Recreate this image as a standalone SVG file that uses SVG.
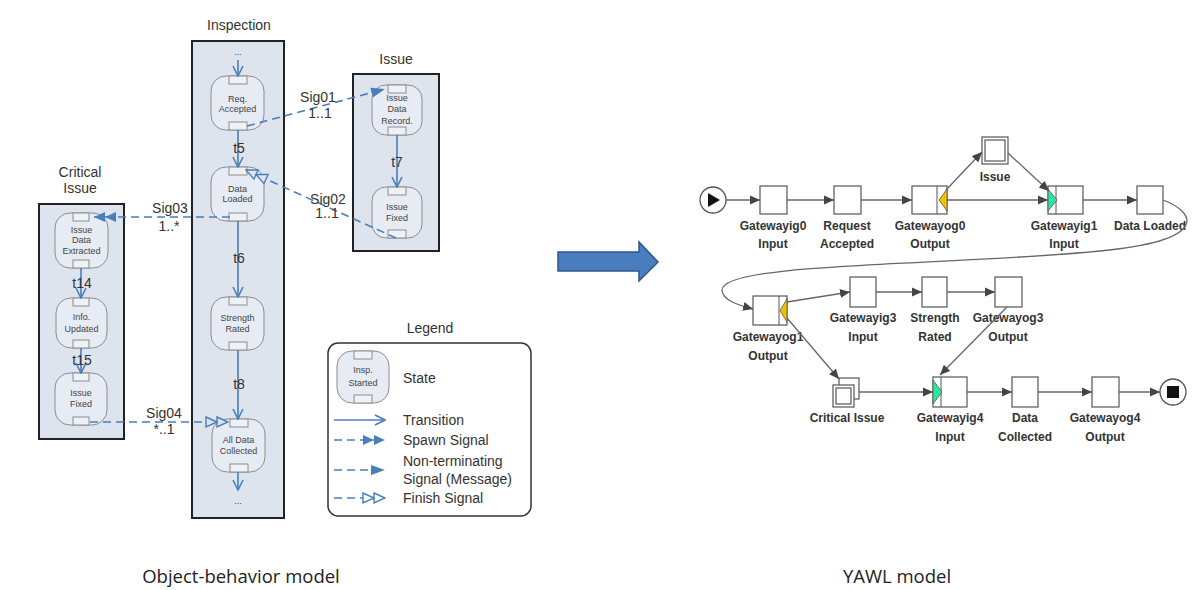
<svg xmlns="http://www.w3.org/2000/svg" width="1197" height="590" viewBox="0 0 1197 590">
<style>
.cont{fill:#dde4ee;stroke:#222;stroke-width:2}
.st{fill:#e7ecf4;stroke:#8c8c8c;stroke-width:1}
.port{fill:#eef1f6;stroke:#8c8c8c;stroke-width:1}
.tr{stroke:#4a7ebb;stroke-width:1.6;fill:none}
.sig{stroke:#4a7ebb;stroke-width:1.6;fill:none;stroke-dasharray:8,5}
.ttl{font-family:"Liberation Sans",Arial,sans-serif;font-size:14px;fill:#333;text-anchor:middle}
.lbl{font-family:"Liberation Sans",Arial,sans-serif;font-size:14px;fill:#333;text-anchor:middle}
.sn{font-family:"Liberation Sans",Arial,sans-serif;font-size:9px;fill:#444;text-anchor:middle}
.lg{font-family:"Liberation Sans",Arial,sans-serif;font-size:14px;fill:#333}
.task{fill:#fff;stroke:#555;stroke-width:1.2}
.ye{fill:#f2c200;stroke:#555;stroke-width:0.8}
.gr{fill:#2fe3a0;stroke:#555;stroke-width:0.8}
.ed{stroke:#666;stroke-width:1.3;fill:none}
.yl{font-family:"Liberation Sans",Arial,sans-serif;font-size:12px;font-weight:bold;fill:#333;text-anchor:middle}
.cap{font-family:"Open Sans","Liberation Sans",sans-serif;font-size:18.5px;fill:#222;text-anchor:middle}
</style>
<defs>
<marker id="vh" markerUnits="userSpaceOnUse" viewBox="0 0 12 12" refX="11" refY="6" markerWidth="12" markerHeight="12" orient="auto">
<path d="M1,1 L11,6 L1,11" fill="none" stroke="#4a7ebb" stroke-width="1.6"/>
</marker>
<marker id="msg" markerUnits="userSpaceOnUse" viewBox="0 0 14 12" refX="14" refY="6" markerWidth="14" markerHeight="12" orient="auto">
<path d="M0,1 L14,6 L0,11 z" fill="#4a7ebb"/>
</marker>
<marker id="spawn" markerUnits="userSpaceOnUse" viewBox="0 0 22 12" refX="22" refY="6" markerWidth="22" markerHeight="12" orient="auto">
<path d="M0,1 L11,6 L0,11 z M11,1 L22,6 L11,11 z" fill="#4a7ebb"/>
</marker>
<marker id="fin" markerUnits="userSpaceOnUse" viewBox="0 0 24 14" refX="23" refY="7" markerWidth="24" markerHeight="14" orient="auto">
<path d="M1,2 L12,7 L1,12 z M12,2 L23,7 L12,12 z" fill="#dde4ee" stroke="#4a7ebb" stroke-width="1.4"/>
</marker>
<marker id="finw" markerUnits="userSpaceOnUse" viewBox="0 0 24 14" refX="23" refY="7" markerWidth="24" markerHeight="14" orient="auto">
<path d="M1,2 L12,7 L1,12 z M12,2 L23,7 L12,12 z" fill="#fff" stroke="#4a7ebb" stroke-width="1.4"/>
</marker>
<marker id="ya" markerUnits="userSpaceOnUse" viewBox="0 0 10 10" refX="10" refY="5" markerWidth="10" markerHeight="10" orient="auto">
<path d="M0,0.5 L10,5 L0,9.5 z" fill="#444"/>
</marker>
</defs>
<rect width="1197" height="590" fill="#fff"/>

<!-- Object-behavior model -->
<g id="inspection">
<text class="ttl" x="239" y="30">Inspection</text>
<rect class="cont" x="192" y="41" width="92" height="477"/>
<text class="sn" x="238" y="55">...</text>
<text class="sn" x="238" y="504">...</text>
</g>
<g id="issue">
<text class="ttl" x="396" y="64">Issue</text>
<rect class="cont" x="353" y="74" width="86" height="177"/>
</g>
<g id="critical-issue">
<text class="ttl" x="80" y="177">Critical</text>
<text class="ttl" x="80" y="193">Issue</text>
<rect class="cont" x="39" y="204" width="85" height="235"/>
</g>

<g id="req-accepted">
<rect class="st" x="211" y="76" width="53" height="54" rx="15"/>
<rect class="port" x="229" y="76" width="18" height="8"/><rect class="port" x="229" y="122" width="18" height="8"/>
<text class="sn" x="237.5" y="102">Req.</text><text class="sn" x="237.5" y="112">Accepted</text>
</g>
<g id="data-loaded">
<rect class="st" x="211" y="167" width="53" height="54" rx="15"/>
<rect class="port" x="229" y="167" width="18" height="8"/><rect class="port" x="229" y="213" width="18" height="8"/>
<text class="sn" x="237.5" y="192">Data</text><text class="sn" x="237.5" y="202">Loaded</text>
</g>
<g id="strength-rated">
<rect class="st" x="211" y="297" width="53" height="53" rx="15"/>
<rect class="port" x="229" y="297" width="18" height="8"/><rect class="port" x="229" y="342" width="18" height="8"/>
<text class="sn" x="237.5" y="321">Strength</text><text class="sn" x="237.5" y="332">Rated</text>
</g>
<g id="all-data-collected">
<rect class="st" x="212" y="419" width="53" height="53" rx="15"/>
<rect class="port" x="230" y="419" width="18" height="8"/><rect class="port" x="230" y="464" width="18" height="8"/>
<text class="sn" x="238.5" y="443">All Data</text><text class="sn" x="238.5" y="454">Collected</text>
</g>
<g id="issue-data-record">
<rect class="st" x="372" y="85" width="50" height="50" rx="14"/>
<rect class="port" x="388" y="85" width="18" height="8"/><rect class="port" x="388" y="127" width="18" height="8"/>
<text class="sn" x="397" y="101">Issue</text><text class="sn" x="397" y="112">Data</text><text class="sn" x="397" y="124">Record.</text>
</g>
<g id="issue-fixed-i">
<rect class="st" x="372" y="187" width="50" height="51" rx="14"/>
<rect class="port" x="388" y="187" width="18" height="8"/><rect class="port" x="388" y="230" width="18" height="8"/>
<text class="sn" x="397" y="210">Issue</text><text class="sn" x="397" y="221">Fixed</text>
</g>
<g id="issue-data-extracted">
<rect class="st" x="55" y="213" width="53" height="55" rx="15"/>
<rect class="port" x="73" y="213" width="16" height="8"/><rect class="port" x="73" y="260" width="16" height="8"/>
<text class="sn" x="81.5" y="233">Issue</text><text class="sn" x="81.5" y="243">Data</text><text class="sn" x="81.5" y="254">Extracted</text>
</g>
<g id="info-updated">
<rect class="st" x="56" y="298" width="51" height="50" rx="15"/>
<rect class="port" x="73" y="298" width="16" height="8"/><rect class="port" x="73" y="340" width="16" height="8"/>
<text class="sn" x="81.5" y="320">Info.</text><text class="sn" x="81.5" y="332">Updated</text>
</g>
<g id="issue-fixed-c">
<rect class="st" x="55" y="373" width="52" height="52" rx="15"/>
<rect class="port" x="73" y="373" width="16" height="8"/><rect class="port" x="73" y="417" width="16" height="8"/>
<text class="sn" x="81" y="396">Issue</text><text class="sn" x="81" y="407">Fixed</text>
</g>

<g id="ob-connectors">
<line class="tr" x1="238" y1="60" x2="238" y2="76" marker-end="url(#vh)"/>
<line class="tr" x1="238" y1="130" x2="238" y2="167" marker-end="url(#vh)"/>
<line class="tr" x1="238" y1="221" x2="238" y2="297" marker-end="url(#vh)"/>
<line class="tr" x1="238" y1="350" x2="238" y2="419" marker-end="url(#vh)"/>
<line class="tr" x1="238" y1="472" x2="238" y2="490" marker-end="url(#vh)"/>
<line class="tr" x1="397" y1="135" x2="397" y2="187" marker-end="url(#vh)"/>
<line class="tr" x1="81" y1="268" x2="81" y2="298" marker-end="url(#vh)"/>
<line class="tr" x1="81" y1="348" x2="81" y2="373" marker-end="url(#vh)"/>
<text class="lbl" x="239" y="153">t5</text>
<text class="lbl" x="239" y="263">t6</text>
<text class="lbl" x="239" y="389">t8</text>
<text class="lbl" x="397" y="167">t7</text>
<text class="lbl" x="82" y="288">t14</text>
<text class="lbl" x="82" y="365">t15</text>
<path class="sig" d="M247,126 L385,89" marker-end="url(#msg)"/>
<path class="sig" d="M396,238 L246,170" marker-end="url(#fin)"/>
<path class="sig" d="M230,217 L94,217" marker-end="url(#spawn)"/>
<path class="sig" d="M90,422 L228,422" marker-end="url(#fin)"/>
<text class="lbl" x="318" y="102">Sig01</text><text class="lbl" x="320" y="118">1..1</text>
<text class="lbl" x="328" y="204">Sig02</text><text class="lbl" x="327" y="218">1..1</text>
<text class="lbl" x="170" y="213">Sig03</text><text class="lbl" x="169" y="231">1..*</text>
<text class="lbl" x="164" y="418">Sig04</text><text class="lbl" x="164" y="434">*..1</text>
</g>

<g id="legend">
<text class="ttl" x="430" y="333">Legend</text>
<rect x="328" y="343" width="203" height="173" rx="10" fill="#fff" stroke="#333" stroke-width="1.5"/>
<rect class="st" x="337" y="351" width="52" height="52" rx="15"/>
<rect class="port" x="354" y="351" width="18" height="8"/><rect class="port" x="354" y="395" width="18" height="8"/>
<text class="sn" x="363" y="373">Insp.</text><text class="sn" x="363" y="386">Started</text>
<text class="lg" x="403" y="383">State</text>
<line class="tr" x1="334" y1="420" x2="385" y2="420" marker-end="url(#vh)"/>
<text class="lg" x="403" y="425">Transition</text>
<line class="sig" x1="334" y1="440" x2="385" y2="440" marker-end="url(#spawn)"/>
<text class="lg" x="403" y="445">Spawn Signal</text>
<line class="sig" x1="334" y1="470" x2="385" y2="470" marker-end="url(#msg)"/>
<text class="lg" x="403" y="466">Non-terminating</text>
<text class="lg" x="403" y="484">Signal (Message)</text>
<line class="sig" x1="334" y1="498" x2="385" y2="498" marker-end="url(#finw)"/>
<text class="lg" x="403" y="503">Finish Signal</text>
</g>

<g id="big-arrow">
<path d="M558,252 L639,252 L639,242 L658,262 L639,281 L639,271 L558,271 z" fill="#4a7cc0" stroke="#2f5690" stroke-width="1.5"/>
</g>

<!-- YAWL model -->
<g id="start"><circle cx="713" cy="200" r="13" fill="#fff" stroke="#555" stroke-width="1.3"/><path d="M708,193 L720,200 L708,207 z" fill="#111"/></g>
<g id="gw-ig0"><rect class="task" x="760" y="186" width="27" height="28"/><text class="yl" x="773" y="230">Gatewayig0</text><text class="yl" x="773" y="248">Input</text></g>
<g id="req-acc"><rect class="task" x="834" y="186" width="27" height="28"/><text class="yl" x="847" y="230">Request</text><text class="yl" x="847" y="248">Accepted</text></g>
<g id="gw-og0"><rect class="task" x="912" y="186" width="35" height="28"/><line x1="937" y1="186" x2="937" y2="214" stroke="#555"/><path class="ye" d="M947,189 L947,211 L939,200 z"/><text class="yl" x="930" y="230">Gatewayog0</text><text class="yl" x="930" y="248">Output</text></g>
<g id="issue-t"><rect class="task" x="982" y="137" width="26" height="27"/><rect class="task" x="985" y="140" width="20" height="21"/><text class="yl" x="995" y="181">Issue</text></g>
<g id="gw-ig1"><rect class="task" x="1048" y="186" width="35" height="28"/><line x1="1056" y1="186" x2="1056" y2="214" stroke="#555"/><path class="gr" d="M1048,189 L1048,211 L1057,200 z"/><text class="yl" x="1064" y="230">Gatewayig1</text><text class="yl" x="1064" y="248">Input</text></g>
<g id="data-loaded-t"><rect class="task" x="1137" y="186" width="26" height="28"/><text class="yl" x="1150" y="230">Data Loaded</text></g>
<g id="gw-og1"><rect class="task" x="753" y="296" width="34" height="29"/><line x1="779" y1="296" x2="779" y2="325" stroke="#555"/><path class="ye" d="M787,299 L787,322 L780,310.5 z"/><text class="yl" x="768" y="341">Gatewayog1</text><text class="yl" x="768" y="360">Output</text></g>
<g id="gw-ig3"><rect class="task" x="850" y="277" width="26" height="30"/><text class="yl" x="863" y="322">Gatewayig3</text><text class="yl" x="863" y="341">Input</text></g>
<g id="strength-t"><rect class="task" x="922" y="277" width="25" height="30"/><text class="yl" x="935" y="322">Strength</text><text class="yl" x="935" y="341">Rated</text></g>
<g id="gw-og3"><rect class="task" x="995" y="277" width="27" height="30"/><text class="yl" x="1008" y="322">Gatewayog3</text><text class="yl" x="1008" y="341">Output</text></g>
<g id="critical-t"><rect class="task" x="839" y="378" width="20" height="21"/><rect class="task" x="833" y="385" width="21" height="22"/><rect class="task" x="836" y="388" width="15" height="16"/><text class="yl" x="847" y="422">Critical Issue</text></g>
<g id="gw-ig4"><rect class="task" x="933" y="377" width="34" height="30"/><line x1="941" y1="377" x2="941" y2="407" stroke="#555"/><path class="gr" d="M933,380 L933,404 L942,392 z"/><text class="yl" x="950" y="422">Gatewayig4</text><text class="yl" x="950" y="441">Input</text></g>
<g id="data-coll-t"><rect class="task" x="1012" y="377" width="26" height="30"/><text class="yl" x="1025" y="422">Data</text><text class="yl" x="1025" y="441">Collected</text></g>
<g id="gw-og4"><rect class="task" x="1092" y="377" width="27" height="30"/><text class="yl" x="1105" y="422">Gatewayog4</text><text class="yl" x="1105" y="441">Output</text></g>
<g id="end"><circle cx="1173" cy="392" r="13" fill="#fff" stroke="#555" stroke-width="1.3"/><rect x="1167" y="386" width="12" height="12" fill="#111"/></g>

<g id="yawl-connectors">
<line class="ed" x1="726" y1="200" x2="760" y2="200" marker-end="url(#ya)"/>
<line class="ed" x1="787" y1="200" x2="834" y2="200" marker-end="url(#ya)"/>
<line class="ed" x1="861" y1="200" x2="912" y2="200" marker-end="url(#ya)"/>
<line class="ed" x1="946" y1="190" x2="982" y2="152" marker-end="url(#ya)"/>
<line class="ed" x1="947" y1="200" x2="1048" y2="200" marker-end="url(#ya)"/>
<line class="ed" x1="1008" y1="153" x2="1049" y2="191" marker-end="url(#ya)"/>
<line class="ed" x1="1083" y1="200" x2="1137" y2="200" marker-end="url(#ya)"/>
<path class="ed" d="M1163,200 C1195,212 1212,240 1100,251 C950,266 722,262 722,290 C722,300 738,305 753,309" marker-end="url(#ya)"/>
<line class="ed" x1="787" y1="302" x2="850" y2="292" marker-end="url(#ya)"/>
<line class="ed" x1="876" y1="292" x2="922" y2="292" marker-end="url(#ya)"/>
<line class="ed" x1="947" y1="292" x2="995" y2="292" marker-end="url(#ya)"/>
<line class="ed" x1="1007" y1="307" x2="940" y2="375" marker-end="url(#ya)"/>
<line class="ed" x1="787" y1="318" x2="839" y2="379" marker-end="url(#ya)"/>
<line class="ed" x1="859" y1="392" x2="933" y2="392" marker-end="url(#ya)"/>
<line class="ed" x1="967" y1="392" x2="1012" y2="392" marker-end="url(#ya)"/>
<line class="ed" x1="1038" y1="392" x2="1092" y2="392" marker-end="url(#ya)"/>
<line class="ed" x1="1119" y1="392" x2="1160" y2="392" marker-end="url(#ya)"/>
</g>

<text class="cap" x="241" y="583">Object-behavior model</text>
<text class="cap" x="897" y="583">YAWL model</text>
</svg>
